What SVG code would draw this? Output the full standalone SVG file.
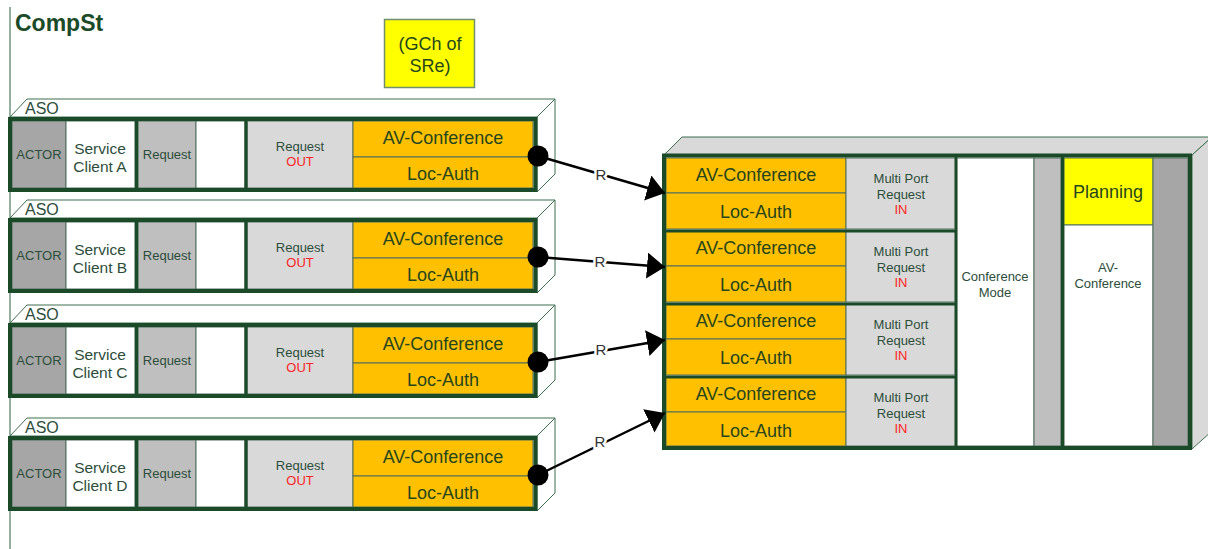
<svg xmlns="http://www.w3.org/2000/svg" width="1208" height="549" viewBox="0 0 1208 549">
<style>
text{font-family:"Liberation Sans",Arial,sans-serif;fill:#2c4d3a}
.face{fill:#fff;stroke:#3f6f4f;stroke-width:1}
.gface{fill:#d9d9d9;stroke:#3f6f4f;stroke-width:1}
.frame{fill:none;stroke:#1b4a28;stroke-width:4}
.thick{stroke:#1b4a28;stroke-width:3.2}
.cell{stroke:#4f6f5f;stroke-width:1}
.dg{fill:#a6a6a6}.mg{fill:#bfbfbf}.lg{fill:#d9d9d9}.wh{fill:#fff}.or{fill:#ffc000}.ye{fill:#ffff00}
.s13{font-size:13px;text-anchor:middle}
.s15{font-size:15.5px;text-anchor:middle}
.s18{font-size:18px;text-anchor:middle;fill:#25461f}
.red{fill:#ff2424}
.aso{font-size:16px}
.conn{stroke:#000;stroke-width:2.5;fill:none;marker-end:url(#ah)}
.lbl{font-size:15px;text-anchor:middle;fill:#333;stroke:#fff;stroke-width:5;paint-order:stroke}
</style>
<defs>
<marker id="ah" markerUnits="userSpaceOnUse" markerWidth="19" markerHeight="26" refX="18" refY="13" orient="auto">
<path d="M0,0 L18,13 L0,26 z" fill="#000"/>
</marker>
<g id="aso">
<polygon class="face" points="10,117 27,99 555,99 537,117"/>
<polygon class="face" points="537,117 555,99 555,174 537,192"/>
<rect class="cell dg" x="12" y="121" width="54" height="67"/>
<rect class="cell wh" x="66" y="121" width="69" height="67"/>
<rect class="cell mg" x="138" y="121" width="58" height="67"/>
<rect class="cell wh" x="196" y="121" width="49" height="67"/>
<rect class="cell lg" x="247" y="121" width="106" height="67"/>
<rect class="cell or" x="353" y="121" width="180" height="36"/>
<rect class="cell or" x="353" y="157" width="180" height="31"/>
<line class="thick" x1="136.5" y1="119" x2="136.5" y2="190"/>
<line class="thick" x1="246" y1="119" x2="246" y2="190"/>
<rect class="frame" x="10" y="119" width="525.5" height="71"/>
<text class="aso" x="25" y="114">ASO</text>
<text class="s13" x="39" y="158.5">ACTOR</text>
<text class="s13" x="167" y="158.5">Request</text>
<text class="s13" x="300" y="150.5">Request</text>
<text class="s13 red" x="300" y="165.5">OUT</text>
<text class="s18" x="443" y="143.5">AV-Conference</text>
<text class="s18" x="443" y="179.5">Loc-Auth</text>
<circle cx="538" cy="156" r="10.5" fill="#000"/>
</g>
<g id="row">
<rect class="cell or" x="666" y="158" width="180" height="35"/>
<rect class="cell or" x="666" y="193" width="180" height="36"/>
<rect class="cell lg" x="846" y="158" width="109" height="71"/>
<text class="s18" x="756" y="180.5">AV-Conference</text>
<text class="s18" x="756" y="217.5">Loc-Auth</text>
<text class="s13" x="901" y="182.5">Multi Port</text>
<text class="s13" x="901" y="198.5">Request</text>
<text class="s13 red" x="901" y="213.5">IN</text>
</g>
</defs>
<line x1="10" y1="7" x2="10" y2="549" stroke="#2f5f3f" stroke-width="1"/>
<text id="title" x="15" y="31" font-size="23" font-weight="bold" style="fill:#1b4a28">CompSt</text>
<g id="gch">
<rect x="384.5" y="19.5" width="90" height="68" class="ye" stroke="#6f8f6f" stroke-width="1.5"/>
<text x="430" y="49.5" style="font-size:18px;text-anchor:middle;fill:#25461f">(GCh of</text>
<text x="430" y="71.5" style="font-size:18px;text-anchor:middle;fill:#25461f">SRe)</text>
</g>
<g id="asoA"><use href="#aso"/><text class="s15" x="100" y="153.5">Service</text><text class="s15" x="100" y="171.5">Client A</text></g>
<g id="asoB" transform="translate(0,101)"><use href="#aso"/><text class="s15" x="100" y="153.5">Service</text><text class="s15" x="100" y="171.5">Client B</text></g>
<g id="asoC" transform="translate(0,206)"><use href="#aso"/><text class="s15" x="100" y="153.5">Service</text><text class="s15" x="100" y="171.5">Client C</text></g>
<g id="asoD" transform="translate(0,319)"><use href="#aso"/><text class="s15" x="100" y="153.5">Service</text><text class="s15" x="100" y="171.5">Client D</text></g>
<g id="server">
<polygon class="gface" points="664,155 682,137 1212,137 1192,155"/>
<polygon class="gface" points="1192,155 1212,137 1212,431 1192,449"/>
<use href="#row"/>
<use href="#row" transform="translate(0,73)"/>
<use href="#row" transform="translate(0,146)"/>
<g transform="translate(0,219)">
<rect class="cell or" x="666" y="158" width="180" height="35"/>
<rect class="cell or" x="666" y="193" width="180" height="34"/>
<rect class="cell lg" x="846" y="158" width="109" height="69"/>
<text class="s18" x="756" y="180.5">AV-Conference</text>
<text class="s18" x="756" y="217.5">Loc-Auth</text>
<text class="s13" x="901" y="182.5">Multi Port</text>
<text class="s13" x="901" y="198.5">Request</text>
<text class="s13 red" x="901" y="213.5">IN</text>
</g>
<rect class="cell wh" x="957" y="158" width="77" height="288"/>
<rect class="cell mg" x="1034" y="158" width="27" height="288"/>
<rect class="cell ye" x="1064" y="158" width="89" height="67"/>
<rect class="cell wh" x="1064" y="225" width="89" height="221"/>
<rect class="cell dg" x="1153" y="158" width="35" height="288"/>
<line class="thick" x1="664" y1="231" x2="956" y2="231"/>
<line class="thick" x1="664" y1="304" x2="956" y2="304"/>
<line class="thick" x1="664" y1="377" x2="956" y2="377"/>
<line class="thick" x1="956" y1="156" x2="956" y2="447" style="stroke-width:2.5"/>
<line class="thick" x1="1062.5" y1="156" x2="1062.5" y2="447"/>
<rect class="frame" x="664" y="155.5" width="526" height="292.5"/>
<text class="s13" x="995" y="280.5">Conference</text>
<text class="s13" x="995" y="296.5">Mode</text>
<text class="s18" x="1108" y="197.5">Planning</text>
<text class="s13" x="1108" y="271.5">AV-</text>
<text class="s13" x="1108" y="287.5">Conference</text>
</g>
<g id="connectors">
<line class="conn" x1="538" y1="156" x2="665" y2="193"/>
<line class="conn" x1="538" y1="257" x2="665" y2="267"/>
<line class="conn" x1="538" y1="362" x2="665" y2="340"/>
<line class="conn" x1="538" y1="475" x2="665" y2="413"/>
<text class="lbl" x="601" y="179.5">R</text>
<text class="lbl" x="600" y="266.5">R</text>
<text class="lbl" x="601" y="354.5">R</text>
<text class="lbl" x="600" y="446.5">R</text>
</g>
</svg>
